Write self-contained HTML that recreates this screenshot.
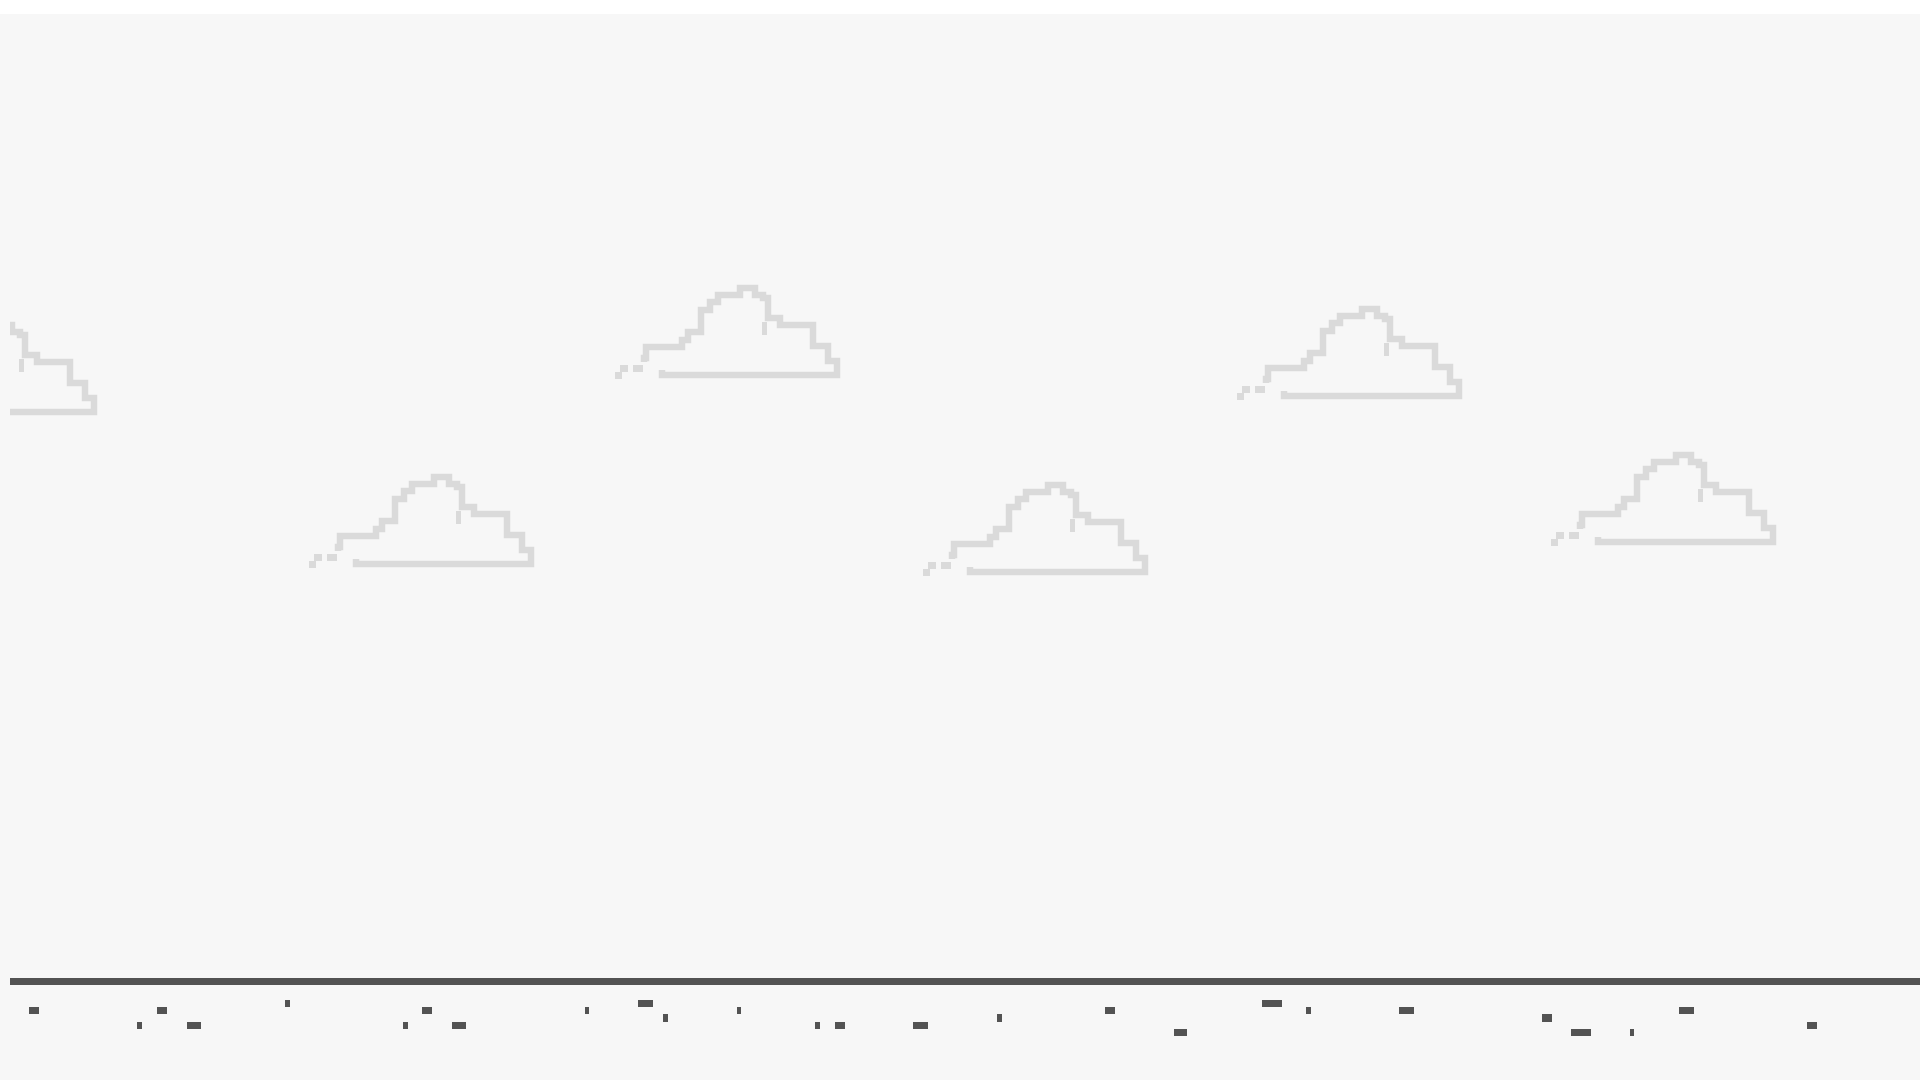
<!DOCTYPE html>
<html><head><meta charset="utf-8"><style>
html,body{margin:0;padding:0;background:#fff;}
#stage{position:absolute;left:0;top:0;width:1920px;height:1080px;}
</style></head><body>
<svg id="stage" width="1920" height="1080" viewBox="0 0 1920 1080" xmlns="http://www.w3.org/2000/svg">
<rect x="0" y="0" width="1920" height="1080" fill="#ffffff"/>
<rect x="0" y="14" width="1920" height="1066" fill="#f7f7f7"/>
<defs>
<clipPath id="clipc"><rect x="10" y="14" width="1910" height="1066"/></clipPath>
<g id="cloud">
<polyline points="62,100 62,105 237,105 237,91 228,91 228,76 213,76 213,55 180,55 180,48 168,48 168,28 163,28 163,25 155,25 155,18 140,18 140,25 118,25 118,32 110,32 110,40 101,40 101,62 88,62 88,70 82,70 82,77 46,77 46,88 44,88 44,92" fill="none" stroke="#dadada" stroke-width="6.5"/>
<rect x="162" y="52" width="5" height="13" fill="#dadada"/>
<rect x="33" y="95" width="10" height="7" fill="#dadada"/>
<rect x="15" y="102" width="7" height="7" fill="#dadada"/>
<rect x="20" y="95" width="8" height="7" fill="#dadada"/>
</g>
</defs>
<g id="clouds" clip-path="url(#clipc)"></g>
<rect x="10" y="978" width="1910" height="7" fill="#535353"/>
<g id="bumps"></g>
</svg>
<script>
const cloudX=[615,309,923,1237,1551,-128];
const cloudY=[285,474,482,306,452,322];
const bumpX=[29,157,285,422,585,638,663,737,137,187,403,452,815,835,913,997,1105,1174,1262,1306,1399,1542,1571,1630,1679,1807];
const bumpY=[1007,1007,1000,1007,1007,1000,1014,1007,1022,1022,1022,1022,1022,1022,1022,1014,1007,1029,1000,1007,1007,1014,1029,1029,1007,1022];
const bumpW=[10,10,5,10,4,15,5,4,5,14,5,14,5,10,15,5,10,13,20,5,15,10,20,4,15,10];
const NS='http://www.w3.org/2000/svg';
const cg=document.getElementById('clouds');
for(let i=0;i<cloudX.length;i++){
  const u=document.createElementNS(NS,'use');
  u.setAttribute('href','#cloud');
  u.setAttribute('transform','translate('+(cloudX[i]-15)+','+(cloudY[i]-15)+')');
  
  
  cg.appendChild(u);
}
const bg=document.getElementById('bumps');
for(let i=0;i<bumpX.length;i++){
  const r=document.createElementNS(NS,'rect');
  r.setAttribute('x',bumpX[i]);
  r.setAttribute('y',bumpY[i]);
  r.setAttribute('width',bumpW[i]);
  r.setAttribute('height',bumpY[i]===1014?8:7);
  r.setAttribute('fill','#535353');
  
  
  bg.appendChild(r);
}
</script>
</body></html>
